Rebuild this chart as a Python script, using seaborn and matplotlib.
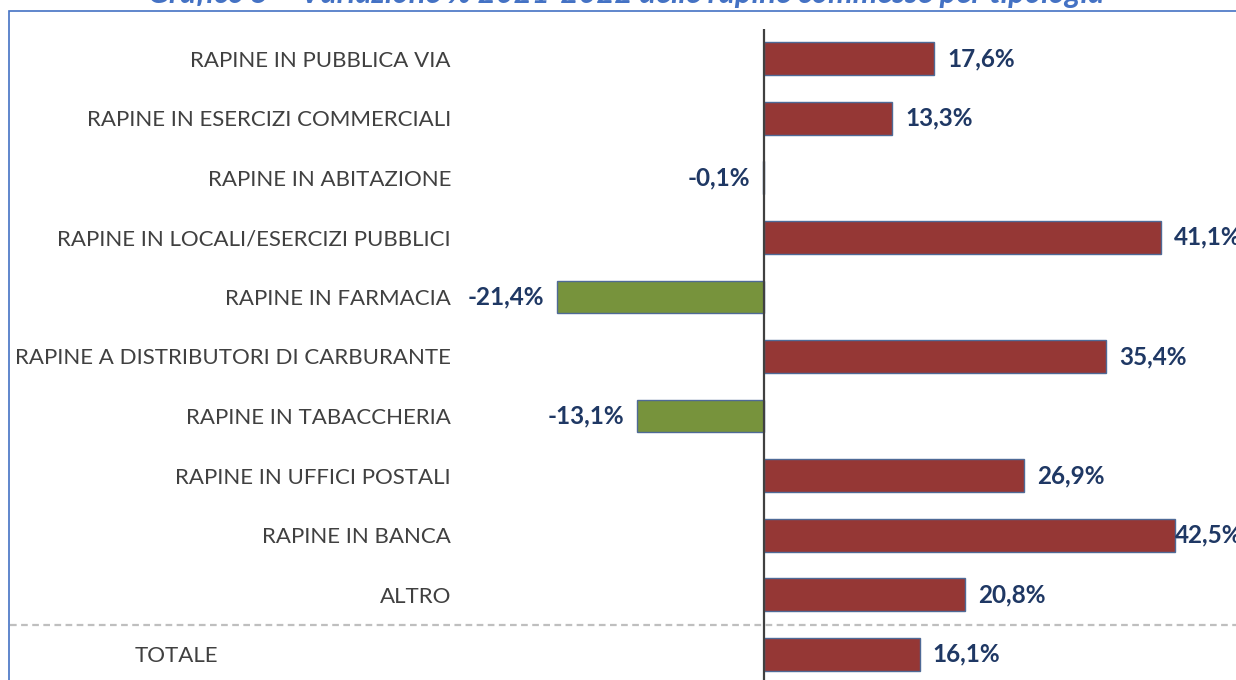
import pandas as pd
import seaborn as sns
import matplotlib.pyplot as plt
from matplotlib.patches import Rectangle
from matplotlib.transforms import ScaledTranslation

categories = [
    "RAPINE IN PUBBLICA VIA",
    "RAPINE IN ESERCIZI COMMERCIALI",
    "RAPINE IN ABITAZIONE",
    "RAPINE IN LOCALI/ESERCIZI PUBBLICI",
    "RAPINE IN FARMACIA",
    "RAPINE A DISTRIBUTORI DI CARBURANTE",
    "RAPINE IN TABACCHERIA",
    "RAPINE IN UFFICI POSTALI",
    "RAPINE IN BANCA",
    "ALTRO",
    "TOTALE",
]
variazione = [17.6, 13.3, -0.1, 41.1, -21.4, 35.4, -13.1, 26.9, 42.5, 20.8, 16.1]
title = "Grafico 5 – Variazione % 2021-2022 delle rapine commesse per tipologia"

df = pd.DataFrame({"tipologia": categories, "variazione": variazione})
df["segno"] = ["pos" if v >= 0 else "neg" for v in df["variazione"]]

sns.set_style("white")
plt.rcParams["font.family"] = ["Lato", "DejaVu Sans"]

W, H = 1236, 680
fig = plt.figure(figsize=(W / 100, H / 100), dpi=100)
ax_left = 460
ax = fig.add_axes([ax_left / W, 0, (W - ax_left) / W, 1])

sns.barplot(
    data=df, y="tipologia", x="variazione", hue="segno", order=categories,
    palette={"pos": "#953735", "neg": "#77933C"}, saturation=1, dodge=False,
    width=0.55, edgecolor="#4F6A96", linewidth=1, legend=False, ax=ax,
)

# pixel-based scale: zero at x=764, 9.66 px per percent point
zero_px, px_per = 764, 9.66
ax.set_xlim((ax_left - zero_px) / px_per, (W - zero_px) / px_per)
row0, row_step = 58.7, 59.56
ax.set_ylim((H - row0) / row_step, -row0 / row_step)

ax.set_xlabel("")
ax.set_ylabel("")
ax.set_xticks([])
ax.tick_params(axis="y", length=0, pad=6.5, labelsize=16, labelcolor="#404040")
for s in ax.spines.values():
    s.set_visible(False)

# TOTALE label sits further left in the original
tot = ax.get_yticklabels()[-1]
tot.set_transform(tot.get_transform() + ScaledTranslation(-2.33, 0, fig.dpi_scale_trans))

# zero line
ax.vlines(0, -0.5, (H - row0) / row_step, color="#404040", lw=1.6, zorder=3)

# separator before TOTALE
ax.axhline(9.51, xmin=(10 - ax_left) / (W - ax_left), xmax=1, color="#BFBFBF",
           lw=1.6, ls=(0, (3, 2)), clip_on=False)

# value labels
off = 13 / px_per
max_x = (1175 - zero_px) / px_per
for i, v in enumerate(variazione):
    txt = f"{v:.1f}%".replace(".", ",")
    if v >= 0:
        ax.text(min(v + off, max_x), i, txt, ha="left", va="center",
                fontsize=17.5, fontweight="bold", color="#1F3864", clip_on=False)
    else:
        ax.text(v - off, i, txt, ha="right", va="center",
                fontsize=17.5, fontweight="bold", color="#1F3864", clip_on=False)

# chart frame and title
fig.add_artist(Rectangle((9 / W, -0.1), 1.1, 1 - 11 / H + 0.1, transform=fig.transFigure,
                         fill=False, edgecolor="#4472C4", lw=1.2, clip_on=False))
fig.text(626 / W, 1 - 3 / H, title, ha="center", va="baseline", fontsize=22.3,
         fontweight="bold", fontstyle="italic", color="#4472C4")

plt.savefig("out.png", dpi=100)
